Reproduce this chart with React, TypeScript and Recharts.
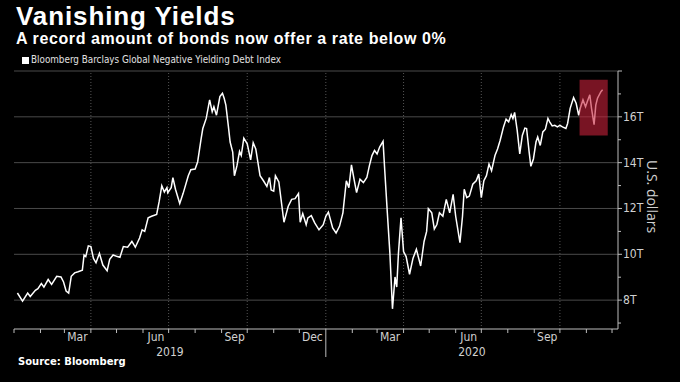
import { LineChart, Line, XAxis, YAxis, ReferenceLine, ReferenceArea } from 'recharts'

// day offsets from 2019-01-01 and index level in trillions of USD
const DAYS = [
  4, 10, 16, 19, 25, 28, 32, 35, 40, 44, 50, 55, 58, 61, 64, 67, 71, 75, 80, 82, 84, 87, 90, 93, 96, 100,
  104, 109, 112, 116, 121, 124, 128, 133, 138, 142, 147, 150, 153, 157, 161, 167, 170, 173, 176, 179, 180,
  184, 186, 189, 194, 198, 204, 207, 212, 215, 219, 221, 225, 229, 232, 234, 237, 241, 244, 246, 248, 251,
  253, 256, 258, 261, 264, 266, 269, 273, 277, 280, 283, 288, 292, 296, 299, 301, 304, 306, 310, 316, 321,
  325, 329, 333, 335, 338, 342, 344, 348, 352, 357, 362, 365, 368, 373, 377, 381, 385, 389, 392, 395, 398,
  401, 405, 409, 413, 416, 419, 422, 425, 428, 432, 434, 437, 440, 443, 446, 448, 450, 453, 456, 459, 463,
  467, 471, 476, 480, 483, 485, 489, 492, 495, 498, 502, 506, 510, 514, 517, 522, 525, 527, 530, 533, 537,
  541, 544, 547, 550, 553, 556, 559, 563, 566, 569, 573, 576, 579, 582, 584, 586, 589, 592, 595, 598, 600,
  603, 605, 608, 611, 613, 616, 619, 622, 625, 627, 630, 633, 636, 639, 642, 646, 648, 651, 655, 658, 661,
  663, 666, 669, 671, 674, 676, 679, 681, 683, 687, 689,
]
const VALUES = [
  8.31, 7.96, 8.31, 8.16, 8.43, 8.5, 8.72, 8.57, 8.9, 8.69, 9.04, 9.01, 8.79, 8.4, 8.31, 9.04, 9.19, 9.24,
  9.31, 9.97, 9.9, 10.37, 10.34, 9.82, 9.63, 10.04, 9.53, 9.28, 9.78, 9.97, 9.9, 9.87, 10.34, 10.31, 10.56,
  10.31, 10.71, 11.07, 11.0, 11.59, 11.66, 11.74, 12.32, 12.99, 12.72, 12.91, 12.69, 12.91, 13.35, 12.84,
  12.22, 12.66, 13.43, 13.69, 13.72, 14.04, 15.04, 15.49, 15.93, 16.74, 16.22, 16.44, 16.07, 16.88, 17.03,
  16.81, 16.51, 15.56, 14.9, 14.46, 13.43, 13.87, 14.49, 14.31, 15.07, 14.82, 14.12, 14.87, 14.6, 13.43,
  13.21, 12.96, 13.35, 12.81, 12.76, 13.43, 13.16, 11.4, 12.1, 12.4, 12.43, 12.65, 11.4, 11.78, 11.29,
  11.59, 11.69, 11.37, 11.07, 11.29, 11.66, 11.84, 11.15, 10.93, 11.22, 11.81, 13.21, 12.91, 13.9, 13.28,
  12.69, 13.28, 13.13, 13.35, 13.87, 14.31, 14.53, 14.38, 14.68, 14.93, 13.65, 11.81, 10.04, 7.62, 9.01,
  8.57, 10.04, 11.59, 10.12, 9.9, 9.13, 9.82, 10.22, 9.49, 10.56, 11.0, 11.99, 11.81, 11.1, 11.3, 11.81,
  11.66, 12.4, 11.81, 12.62, 11.66, 10.51, 11.66, 12.84, 12.47, 12.54, 13.06, 13.21, 13.5, 12.47, 13.21,
  13.43, 13.94, 13.65, 14.31, 14.6, 14.97, 15.56, 15.9, 15.78, 16.1, 15.93, 16.19, 15.41, 14.38, 15.19,
  15.51, 15.49, 14.46, 13.84, 14.16, 14.9, 15.12, 14.75, 15.34, 15.46, 15.93, 15.78, 15.6, 15.63, 15.56,
  15.63, 15.56, 15.49, 15.71, 16.37, 16.84, 16.59, 16.07, 16.4, 16.74, 16.44, 16.66, 16.96, 16.37, 15.66,
  16.51, 16.81, 17.1, 17.18,
]

const MONTH_STARTS = [0, 31, 59, 90, 120, 151, 181, 212, 243, 273, 304, 334, 365, 396, 425, 456, 486, 517, 547, 578, 609, 639, 670, 700]
const MONTH_LABELS = ['', '', 'Mar', '', '', 'Jun', '', '', 'Sep', '', '', 'Dec', '', '', 'Mar', '', '', 'Jun', '', '', 'Sep', '', '', '']
const QUARTER_STARTS = [90, 181, 273, 365, 456, 547, 639]
const YEAR_CENTERS = [182.5, 536]
const YEAR_LABELS = ['2019', '2020']
const Y_TICKS = [7, 8, 9, 10, 11, 12, 13, 14, 15, 16, 17, 18]
const Y_GRID = [8, 10, 12, 14, 16, 18]
const HIGHLIGHT_DAYS = [662, 695]
const HIGHLIGHT_VALUES = [15.19, 17.62]

const data = DAYS.map((d, i) => ({ day: d, value: VALUES[i] }))

const AXIS_FONT = "'Liberation Sans Narrow', 'DejaVu Sans Condensed', Roboto, sans-serif"
const HEAD_FONT = "'Liberation Sans', Arial, sans-serif"
const AXIS_COLOR = '#bdbdbd'

function MonthTick({ x, y, payload, index }: any) {
  const label = MONTH_LABELS[index]
  return (
    <g>
      <line x1={x} y1={y} x2={x} y2={payload.value === 365 ? y + 28 : y + 4} stroke={AXIS_COLOR} strokeWidth={1} />
      {label && (
        <text x={x + 13} y={y + 12} fill="#d0d0d0" fontSize={12} fontFamily={AXIS_FONT} textAnchor="middle">
          {label}
        </text>
      )}
    </g>
  )
}

function YearTick({ x, y, index }: any) {
  return (
    <text x={x} y={y + 13} fill="#d0d0d0" fontSize={12} fontFamily={AXIS_FONT} textAnchor="middle">
      {YEAR_LABELS[index]}
    </text>
  )
}

function ValueTick({ x, y, payload }: any) {
  const major = payload.value % 2 === 0
  return (
    <g>
      <line x1={x} y1={y} x2={x + (major ? 4 : 3)} y2={y} stroke={AXIS_COLOR} strokeWidth={1} />
      {major && payload.value < 18 && (
        <text x={x + 5} y={y + 4} fill="#d0d0d0" fontSize={12} fontFamily={AXIS_FONT}>
          {payload.value}T
        </text>
      )}
    </g>
  )
}

export default function App() {
  return (
    <div style={{ position: 'absolute', left: 0, top: 0, width: 680, height: 382, background: '#000', overflow: 'hidden', fontFamily: HEAD_FONT }}>
      <div style={{ position: 'absolute', left: 16, top: 1, color: '#fff', fontSize: 26, fontWeight: 700, lineHeight: '30px', letterSpacing: 0.9 }}>
        Vanishing Yields
      </div>
      <div style={{ position: 'absolute', left: 16, top: 31, color: '#fff', fontSize: 16, fontWeight: 700, lineHeight: '16px', letterSpacing: 0.6 }}>
        A record amount of bonds now offer a rate below 0%
      </div>
      <div style={{ position: 'absolute', left: 22, top: 57, width: 7, height: 7, background: '#fff' }} />
      <div style={{ position: 'absolute', left: 31, top: 53, color: '#e0e0e0', fontSize: 9.8, lineHeight: '14px', fontFamily: AXIS_FONT }}>
        Bloomberg Barclays Global Negative Yielding Debt Index
      </div>
      <div style={{ position: 'absolute', left: 644, top: 160, color: '#d0d0d0', fontSize: 14, writingMode: 'vertical-rl', lineHeight: '16px', fontFamily: "'Open Sans', sans-serif" }}>
        U.S. dollars
      </div>
      <div style={{ position: 'absolute', left: 18, top: 355, color: '#fff', fontSize: 10, fontWeight: 700, lineHeight: '14px', fontFamily: "'DejaVu Sans', sans-serif" }}>
        Source: Bloomberg
      </div>
      <div style={{ position: 'absolute', left: 0, top: 0 }}>
        <LineChart width={680} height={382} data={data} margin={{ top: 71, right: 12, bottom: 15, left: 14 }}>
          {Y_GRID.map((v) => (
            <ReferenceLine key={'h' + v} y={v} stroke="#4a4a4a" strokeWidth={1} ifOverflow="visible" />
          ))}
          {QUARTER_STARTS.map((d) => (
            <ReferenceLine key={'v' + d} x={d} stroke="#555" strokeDasharray="1 2" />
          ))}
          <XAxis
            dataKey="day"
            type="number"
            domain={[0, 707]}
            ticks={MONTH_STARTS}
            interval={0}
            allowDataOverflow
            height={14}
            tickSize={0}
            tickMargin={0}
            axisLine={{ stroke: AXIS_COLOR }}
            tickLine={false}
            tick={<MonthTick />}
          />
          <XAxis
            xAxisId="year"
            dataKey="day"
            type="number"
            domain={[0, 707]}
            ticks={YEAR_CENTERS}
            interval={0}
            height={24}
            tickSize={0}
            tickMargin={0}
            axisLine={false}
            tickLine={false}
            tick={<YearTick />}
          />
          <YAxis
            orientation="right"
            type="number"
            domain={[6.74, 18]}
            ticks={Y_TICKS}
            interval={0}
            allowDataOverflow
            width={50}
            tickSize={0}
            tickMargin={0}
            axisLine={{ stroke: AXIS_COLOR }}
            tickLine={false}
            tick={<ValueTick />}
          />
          <Line type="linear" dataKey="value" stroke="#fff" strokeWidth={1.5} dot={false} isAnimationActive={false} />
          <ReferenceArea
            x1={HIGHLIGHT_DAYS[0]}
            x2={HIGHLIGHT_DAYS[1]}
            y1={HIGHLIGHT_VALUES[0]}
            y2={HIGHLIGHT_VALUES[1]}
            fill="#c8213a"
            fillOpacity={0.6}
            stroke="none"
            zIndex={1000}
          />
        </LineChart>
      </div>
    </div>
  )
}
